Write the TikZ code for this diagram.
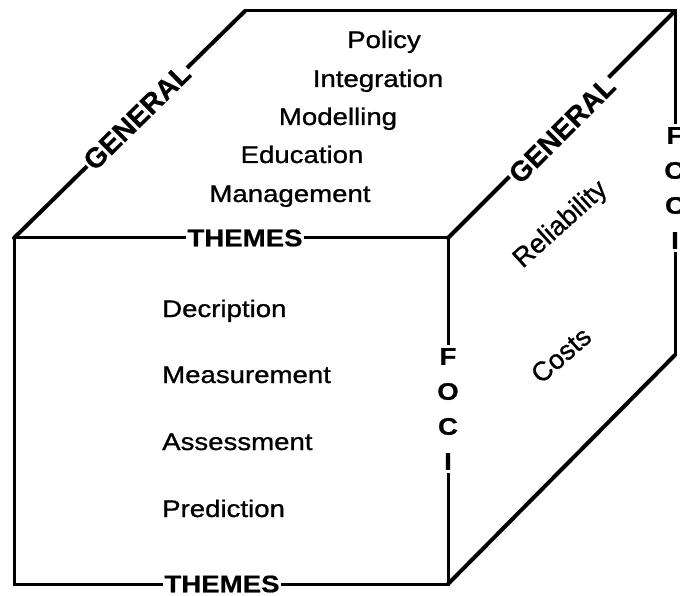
\documentclass[tikz,border=0pt]{standalone}
\usepackage{fontspec}
\setmainfont{Liberation Sans}
\newfontfamily\bodyf[FakeBold=0.9]{Liberation Sans}
\newfontfamily\labf[FakeBold=0.6]{Liberation Sans Bold}
\usepackage{graphicx}
\newcommand\hs[1]{\scalebox{1.15}[1]{#1}}
\begin{document}
\begin{tikzpicture}[x=1pt,y=-1pt,
  edge/.style={line width=3pt, line cap=round, line join=miter},
  diag/.style={line width=4pt, line cap=round},
  body/.style={font=\fontsize{24}{28}\bodyf, inner sep=0pt},
  lab/.style={font=\fontsize{24}{28}\labf, fill=white, inner sep=1.5pt},
  stack/.style={font=\fontsize{24}{35}\labf, fill=white, inner sep=3pt, align=center},
  tilt/.style={font=\fontsize{27}{30}\bodyf, inner sep=0pt}]
\useasboundingbox (0,0) rectangle (680,596);
% corners
\coordinate (A) at (14,238);
\coordinate (B) at (448,238);
\coordinate (C) at (448,584);
\coordinate (D) at (14,584);
\coordinate (E) at (245,11);
\coordinate (F) at (675,11);
\coordinate (G) at (675,355);
% edges
\draw[edge] (A) -- (B) -- (C) -- (D) -- cycle;
\draw[edge] (E) -- (F) -- (G);
\draw[diag] (A) -- (E);
\draw[diag] (B) -- (F);
\draw[diag] (C) -- (G);
% edge labels
\node[lab, font=\fontsize{28}{30}\labf, rotate=44.5] (genL) at (137,117) {GENERAL};
\node[lab, font=\fontsize{28}{30}\labf, rotate=45] (genR) at (562,130) {GENERAL};
\node[lab] (themT) at (245,238) {\hs{THEMES}};
\node[lab] (themB) at (222,584) {\hs{THEMES}};
\node[stack] (fociF) at (448,409) {\hs{F}\\\hs{O}\\\hs{C}\\\hs{I}};
\node[stack] (fociR) at (675,188) {\hs{F}\\\hs{O}\\\hs{C}\\\hs{I}};
% top face
\node[body, anchor=base] (t1) at (384,48) {\hs{Policy}};
\node[body, anchor=base] (t2) at (378,87) {\hs{Integration}};
\node[body, anchor=base] (t3) at (338,125) {\hs{Modelling}};
\node[body, anchor=base] (t4) at (302,163) {\hs{Education}};
\node[body, anchor=base] (t5) at (290,202) {\hs{Management}};
% front face
\node[body, anchor=base west] (f1) at (162,317) {\hs{Decription}};
\node[body, anchor=base west] (f2) at (162,383) {\hs{Measurement}};
\node[body, anchor=base west] (f3) at (162,450) {\hs{Assessment}};
\node[body, anchor=base west] (f4) at (162,517) {\hs{Prediction}};
% side face
\node[tilt, rotate=42] (s1) at (561,225) {Reliability};
\node[tilt, rotate=41] (s2) at (561,355) {Costs};
\end{tikzpicture}
\end{document}
